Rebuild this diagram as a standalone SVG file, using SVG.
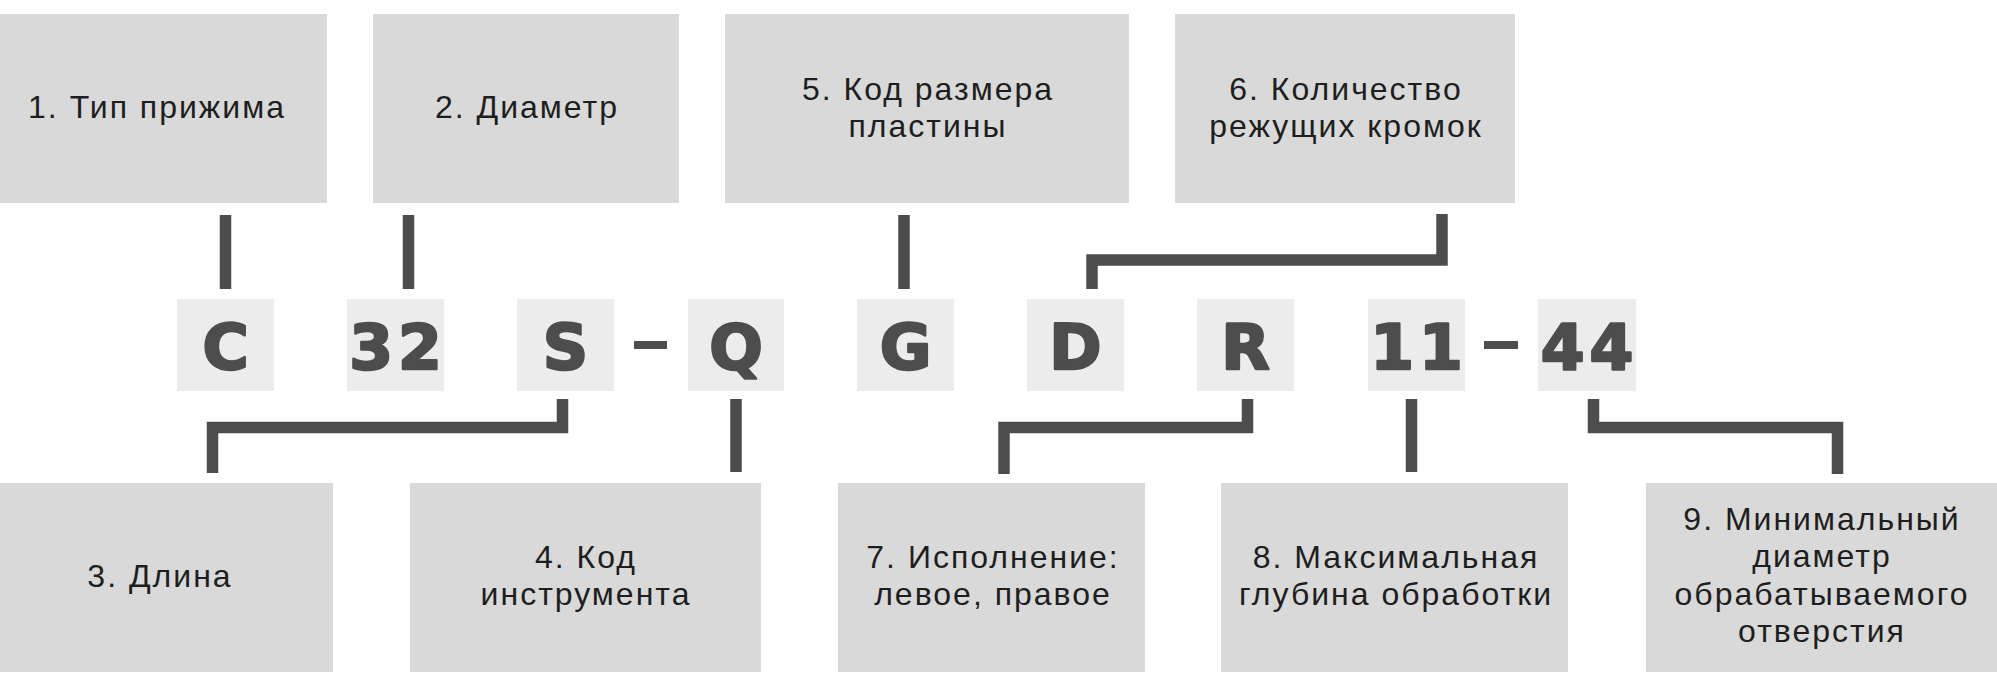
<svg xmlns="http://www.w3.org/2000/svg" width="1997" height="689" viewBox="0 0 1997 689">
<style>
.box{fill:#d9d9d9}
.cbox{fill:#ececec}
.lbl{font-family:"Liberation Sans",Arial,sans-serif;font-size:32px;fill:#1e1e1e;text-anchor:middle;letter-spacing:2px}
.code{font-family:"DejaVu Sans",sans-serif;font-weight:bold;font-size:63px;fill:#4d4d4d;stroke:#4d4d4d;stroke-width:2.5;stroke-linejoin:round;text-anchor:middle;letter-spacing:5px}
.conn{fill:none;stroke:#4d4d4d;stroke-width:11.5;stroke-linejoin:miter;stroke-linecap:butt}
</style>
<rect width="1997" height="689" fill="#ffffff"/>
<g id="n1"><rect class="box" x="0" y="14" width="327" height="189"/><text class="lbl" x="157" y="118">1. Тип прижима</text></g>
<g id="n2"><rect class="box" x="373" y="14" width="306" height="189"/><text class="lbl" x="527" y="118">2. Диаметр</text></g>
<g id="n5"><rect class="box" x="725" y="14" width="404" height="189"/><text class="lbl" x="928" y="100">5. Код размера</text><text class="lbl" x="928" y="137">пластины</text></g>
<g id="n6"><rect class="box" x="1175" y="14" width="340" height="189"/><text class="lbl" x="1346" y="100">6. Количество</text><text class="lbl" x="1346" y="137">режущих кромок</text></g>
<g id="n3"><rect class="box" x="0" y="483" width="333" height="189"/><text class="lbl" x="160" y="587">3. Длина</text></g>
<g id="n4"><rect class="box" x="410" y="483" width="351" height="189"/><text class="lbl" x="586" y="568">4. Код</text><text class="lbl" x="586" y="605">инструмента</text></g>
<g id="n7"><rect class="box" x="838" y="483" width="307" height="189"/><text class="lbl" x="993" y="568">7. Исполнение:</text><text class="lbl" x="993" y="605">левое, правое</text></g>
<g id="n8"><rect class="box" x="1221" y="483" width="347" height="189"/><text class="lbl" x="1396" y="568">8. Максимальная</text><text class="lbl" x="1396" y="605">глубина обработки</text></g>
<g id="n9"><rect class="box" x="1646" y="483" width="351" height="189"/><text class="lbl" x="1822" y="530">9. Минимальный</text><text class="lbl" x="1822" y="567">диаметр</text><text class="lbl" x="1822" y="605">обрабатываемого</text><text class="lbl" x="1822" y="642">отверстия</text></g>
<g id="codes">
<g id="cC"><rect class="cbox" x="177" y="299" width="97" height="92"/><text class="code" x="228" y="369">C</text></g>
<g id="c32"><rect class="cbox" x="347" y="299" width="97" height="92"/><text class="code" x="398" y="369">32</text></g>
<g id="cS"><rect class="cbox" x="517" y="299" width="97" height="92"/><text class="code" x="568" y="369">S</text></g>
<g id="cQ"><rect class="cbox" x="688" y="299" width="96" height="92"/><text class="code" x="738.5" y="369">Q</text></g>
<g id="cG"><rect class="cbox" x="857" y="299" width="97" height="92"/><text class="code" x="908" y="369">G</text></g>
<g id="cD"><rect class="cbox" x="1027" y="299" width="97" height="92"/><text class="code" x="1078" y="369">D</text></g>
<g id="cR"><rect class="cbox" x="1197" y="299" width="97" height="92"/><text class="code" x="1248" y="369">R</text></g>
<g id="c11"><rect class="cbox" x="1368" y="299" width="97" height="92"/><text class="code" x="1419" y="369">11</text></g>
<g id="c44"><rect class="cbox" x="1538" y="299" width="98" height="92"/><text class="code" x="1589.5" y="369">44</text></g>
<rect x="634" y="341" width="33" height="8" fill="#4d4d4d"/>
<rect x="1484" y="341" width="34" height="8" fill="#4d4d4d"/>
</g>
<g id="connectors">
<path class="conn" d="M225.5,215 V289"/>
<path class="conn" d="M408.5,215 V289"/>
<path class="conn" d="M904,215 V289"/>
<path class="conn" d="M1442,214 V260 H1092 V289"/>
<path class="conn" d="M562.5,399 V427.5 H212.5 V473"/>
<path class="conn" d="M736,399 V472"/>
<path class="conn" d="M1247.5,399 V427.5 H1004 V474"/>
<path class="conn" d="M1411.5,399 V472"/>
<path class="conn" d="M1593.5,399 V427.5 H1837.5 V474"/>
</g>
</svg>
